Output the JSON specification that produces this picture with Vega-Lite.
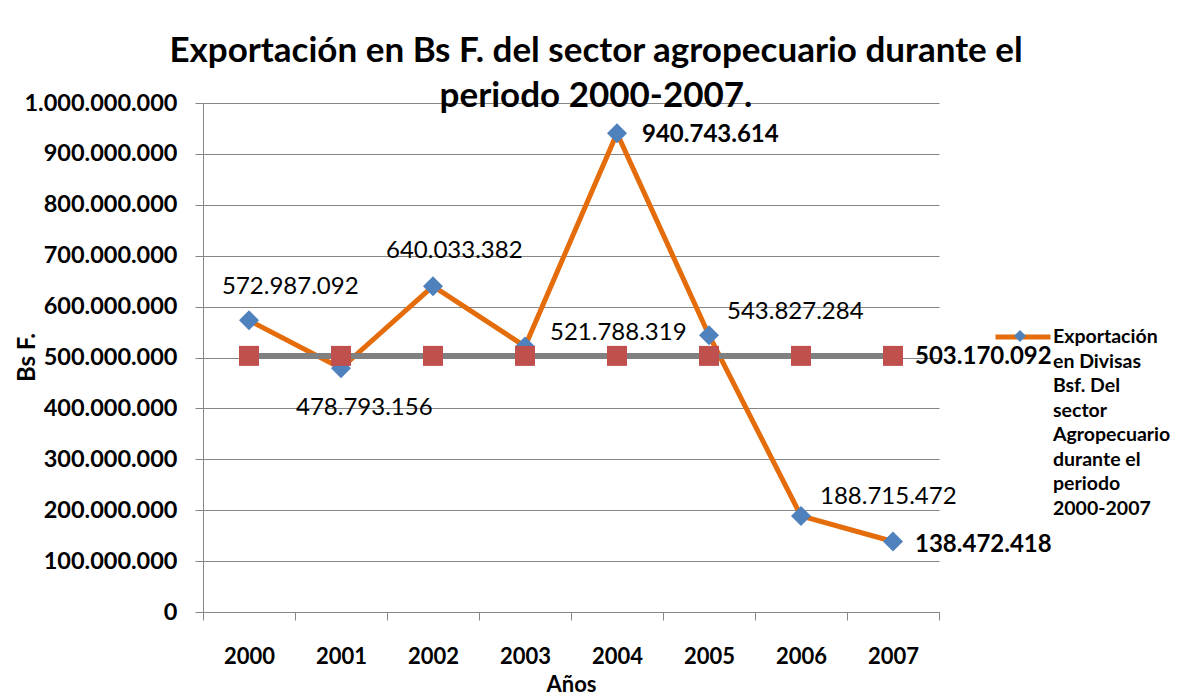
{
  "$schema": "https://vega.github.io/schema/vega-lite/v6.json",
  "width": 736,
  "height": 509,
  "autosize": {"type": "none"},
  "padding": {"left": 203, "top": 103, "right": 239, "bottom": 88},
  "background": "white",
  "config": {
    "locale": {"number": {"decimal": ",", "thousands": ".", "grouping": [3], "currency": ["", ""]}},
    "font": "Lato",
    "view": {"stroke": null},
    "style": {"guide-label": {"lineHeight": 24.5}},
    "text": {"font": "Lato", "fontSize": 24, "align": "left", "baseline": "middle", "color": "black"}
  },
  "title": {
    "text": ["Exportación en Bs F. del sector agropecuario durante el", "periodo 2000-2007."],
    "font": "Lato", "fontSize": 35, "fontWeight": "bold", "lineHeight": 45,
    "anchor": "middle", "dx": 25, "baseline": "alphabetic", "offset": -51, "color": "black"
  },
  "data": {
    "values": [
      {"anio": "2000", "valor": 572987092, "promedio": 503170092},
      {"anio": "2001", "valor": 478793156, "promedio": 503170092},
      {"anio": "2002", "valor": 640033382, "promedio": 503170092},
      {"anio": "2003", "valor": 521788319, "promedio": 503170092},
      {"anio": "2004", "valor": 940743614, "promedio": 503170092},
      {"anio": "2005", "valor": 543827284, "promedio": 503170092},
      {"anio": "2006", "valor": 188715472, "promedio": 503170092},
      {"anio": "2007", "valor": 138472418, "promedio": 503170092}
    ]
  },
  "encoding": {
    "x": {
      "field": "anio", "type": "ordinal", "bandPosition": 0.5,
      "scale": {"type": "band", "paddingInner": 0, "paddingOuter": 0},
      "axis": {
        "title": "Años", "labelAngle": 0, "tickBand": "extent", "grid": false,
        "labelFont": "Lato", "labelFontSize": 22, "labelFontWeight": "bold", "labelColor": "black",
        "labelPadding": 26, "tickSize": 8, "domainColor": "#868686", "tickColor": "#868686",
        "titleFont": "Lato", "titleFontSize": 22, "titleFontWeight": "bold", "titleColor": "black", "titlePadding": 7
      }
    }
  },
  "layer": [
    {
      "mark": {"type": "line", "color": "#E46C0A", "strokeWidth": 5},
      "encoding": {
        "y": {
          "field": "valor", "type": "quantitative", "title": "Bs F.",
          "scale": {"domain": [0, 1000000000]},
          "axis": {
            "tickCount": 10, "format": ",d", "grid": true, "gridColor": "#868686", "gridWidth": 1,
            "domainColor": "#868686", "tickColor": "#868686", "tickSize": 8,
            "labelFont": "Lato", "labelFontSize": 23.5, "labelFontWeight": "bold", "labelColor": "black", "labelPadding": 18,
            "titleFont": "Lato", "titleFontSize": 24, "titleFontWeight": "bold", "titleColor": "black",
            "titleX": -176, "titleY": 254, "titleAlign": "center", "titleBaseline": "middle", "titleAngle": -90
          }
        },
        "stroke": {
          "datum": "Exportación en Divisas Bsf. Del sector Agropecuario durante el periodo 2000-2007",
          "type": "nominal",
          "scale": {"range": ["#E46C0A"]},
          "legend": {
            "orient": "none", "legendX": 790, "legendY": 195, "title": null, "padding": 0,
            "symbolType": "M-1,0.33H1", "symbolSize": 3025, "symbolStrokeWidth": 5, "symbolStrokeColor": "#E46C0A",
            "labelExpr": "['Exportación', 'en Divisas', 'Bsf. Del', 'sector', 'Agropecuario', 'durante el', 'periodo', '2000-2007']",
            "labelFont": "Lato", "labelFontSize": 19.5, "labelFontWeight": "bold", "labelColor": "black",
            "labelBaseline": "top", "labelOffset": 0, "labelLimit": 300
          }
        }
      }
    },
    {
      "mark": {"type": "point", "shape": "diamond", "filled": true, "opacity": 1, "size": 400},
      "encoding": {
        "y": {"field": "valor", "type": "quantitative", "title": "Bs F."},
        "fill": {
          "datum": "Exportación en Divisas Bsf. Del sector Agropecuario durante el periodo 2000-2007 ",
          "type": "nominal",
          "scale": {"range": ["#4F81BD"]},
          "legend": {
            "orient": "none", "legendX": 811, "legendY": 227, "title": null, "padding": 0,
            "symbolType": "diamond", "symbolSize": 144, "symbolFillColor": "#4F81BD", "symbolStrokeWidth": 0,
            "labelExpr": "''"
          }
        }
      }
    },
    {
      "mark": {"type": "line", "color": "#808080", "strokeWidth": 6},
      "encoding": {"y": {"field": "promedio", "type": "quantitative", "title": "Bs F."}}
    },
    {
      "mark": {"type": "point", "shape": "square", "filled": true, "opacity": 1, "size": 400, "color": "#C0504D"},
      "encoding": {"y": {"field": "promedio", "type": "quantitative", "title": "Bs F."}}
    },
    {
      "transform": [{"filter": "datum.anio == '2000'"}],
      "mark": {"type": "text", "dx": -27, "dy": -33},
      "encoding": {"y": {"field": "valor", "type": "quantitative", "title": "Bs F."}, "text": {"field": "valor", "type": "quantitative", "format": ",d"}}
    },
    {
      "transform": [{"filter": "datum.anio == '2001'"}],
      "mark": {"type": "text", "dx": -45, "dy": 40},
      "encoding": {"y": {"field": "valor", "type": "quantitative", "title": "Bs F."}, "text": {"field": "valor", "type": "quantitative", "format": ",d"}}
    },
    {
      "transform": [{"filter": "datum.anio == '2002'"}],
      "mark": {"type": "text", "dx": -47, "dy": -35},
      "encoding": {"y": {"field": "valor", "type": "quantitative", "title": "Bs F."}, "text": {"field": "valor", "type": "quantitative", "format": ",d"}}
    },
    {
      "transform": [{"filter": "datum.anio == '2003'"}],
      "mark": {"type": "text", "dx": 25, "dy": -13},
      "encoding": {"y": {"field": "valor", "type": "quantitative", "title": "Bs F."}, "text": {"field": "valor", "type": "quantitative", "format": ",d"}}
    },
    {
      "transform": [{"filter": "datum.anio == '2004'"}],
      "mark": {"type": "text", "dx": 25, "dy": 2, "fontWeight": "bold"},
      "encoding": {"y": {"field": "valor", "type": "quantitative", "title": "Bs F."}, "text": {"field": "valor", "type": "quantitative", "format": ",d"}}
    },
    {
      "transform": [{"filter": "datum.anio == '2005'"}],
      "mark": {"type": "text", "dx": 18, "dy": -23},
      "encoding": {"y": {"field": "valor", "type": "quantitative", "title": "Bs F."}, "text": {"field": "valor", "type": "quantitative", "format": ",d"}}
    },
    {
      "transform": [{"filter": "datum.anio == '2006'"}],
      "mark": {"type": "text", "dx": 19, "dy": -19},
      "encoding": {"y": {"field": "valor", "type": "quantitative", "title": "Bs F."}, "text": {"field": "valor", "type": "quantitative", "format": ",d"}}
    },
    {
      "transform": [{"filter": "datum.anio == '2007'"}],
      "mark": {"type": "text", "dx": 22, "dy": 3, "fontWeight": "bold"},
      "encoding": {"y": {"field": "valor", "type": "quantitative", "title": "Bs F."}, "text": {"field": "valor", "type": "quantitative", "format": ",d"}}
    },
    {
      "transform": [{"filter": "datum.anio == '2007'"}],
      "mark": {"type": "text", "dx": 22, "dy": 1, "fontWeight": "bold"},
      "encoding": {"y": {"field": "promedio", "type": "quantitative", "title": "Bs F."}, "text": {"field": "promedio", "type": "quantitative", "format": ",d"}}
    }
  ]
}
